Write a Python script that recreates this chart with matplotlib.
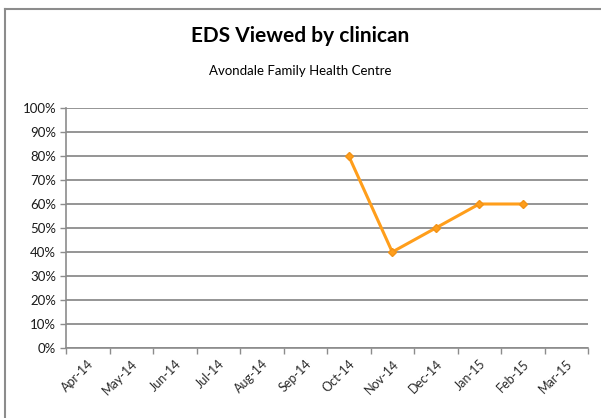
import numpy as np
import matplotlib
matplotlib.use('Agg')
from matplotlib import pyplot as plt
from matplotlib.ticker import FixedLocator, PercentFormatter

months = ['Apr-14', 'May-14', 'Jun-14', 'Jul-14', 'Aug-14', 'Sep-14',
          'Oct-14', 'Nov-14', 'Dec-14', 'Jan-15', 'Feb-15', 'Mar-15']
viewed = [np.nan, np.nan, np.nan, np.nan, np.nan, np.nan,
          80, 40, 50, 60, 60, np.nan]

plt.rcParams['font.family'] = ['Lato', 'DejaVu Sans']

fig = plt.figure(figsize=(6.01, 4.18), dpi=100)
ax = fig.add_axes([66/601, 70/418, 522/601, 240/418])

x = np.arange(len(months))
ax.plot(x, viewed, color='#FF9E1B', lw=2.2, marker='D', ms=4.5,
        markeredgecolor='#F29318')

ax.set_xlim(-0.5, len(months) - 0.5)
ax.set_ylim(0, 100)
ax.set_yticks(np.arange(0, 101, 10))
ax.yaxis.set_major_formatter(PercentFormatter(decimals=0))
ax.grid(axis='y', color='#8c8c8c', lw=1.3)
ax.set_axisbelow(True)

ax.set_xticks(x)
ax.set_xticklabels(months, rotation=45, ha='right', rotation_mode='anchor')
ax.xaxis.set_minor_locator(FixedLocator(np.arange(-0.5, len(months), 1)))
ax.tick_params(axis='x', which='major', length=0, pad=7, labelsize=9, labelcolor='#2a2a2a')
ax.tick_params(axis='x', which='minor', length=4, color='#8c8c8c', width=1)
ax.tick_params(axis='y', length=4, color='#8c8c8c', width=1, pad=3, labelsize=9.5,
               labelcolor='#1a1a1a')

for s in ['top', 'right']:
    ax.spines[s].set_visible(False)
for s in ['left', 'bottom']:
    ax.spines[s].set_color('#8c8c8c')
    ax.spines[s].set_linewidth(1.2)

fig.text(0.5, 1 - 36/418, 'EDS Viewed by clinican', ha='center', va='center',
         fontsize=15, fontweight='bold')
fig.text(0.5, 1 - 71/418, 'Avondale Family Health Centre', ha='center', va='center',
         fontsize=9.5)

# chart border (top and left only visible in the crop)
fig.add_artist(plt.Line2D([5/601, 1], [1 - 9/418, 1 - 9/418], color='#8c8c8c', lw=1.5,
                          transform=fig.transFigure))
fig.add_artist(plt.Line2D([5/601, 5/601], [0, 1 - 9/418], color='#8c8c8c', lw=1.5,
                          transform=fig.transFigure))

fig.savefig('out.png', dpi=100)
